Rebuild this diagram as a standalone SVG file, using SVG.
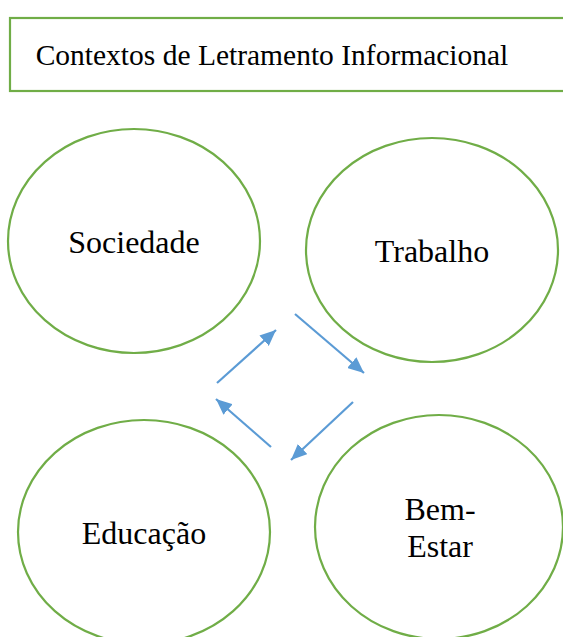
<svg xmlns="http://www.w3.org/2000/svg" width="563" height="637" viewBox="0 0 563 637">
<style>
.node{fill:#fff;stroke:#70AD47;stroke-width:2.2}
.lbl{font-family:"Liberation Serif","Times New Roman",serif;font-size:32px;fill:#000;text-anchor:middle}
.conn{stroke:#5B9BD5;stroke-width:2.2;fill:none;marker-end:url(#ah)}
</style>
<defs>
<marker id="ah" markerUnits="userSpaceOnUse" viewBox="0 0 16 14" refX="16" refY="7" markerWidth="16" markerHeight="14" orient="auto">
<path d="M0,0 L16,7 L0,14 Z" fill="#5B9BD5"/>
</marker>
</defs>
<rect width="563" height="637" fill="#fff"/>
<g id="title">
<rect class="node" x="10" y="18" width="562" height="73"/>
<text class="lbl" x="272" y="65" style="font-size:29.5px">Contextos de Letramento Informacional</text>
</g>
<g id="sociedade">
<ellipse class="node" cx="134" cy="241" rx="126" ry="112"/>
<text class="lbl" x="134" y="253">Sociedade</text>
</g>
<g id="trabalho">
<ellipse class="node" cx="432" cy="250" rx="126" ry="112"/>
<text class="lbl" x="432" y="262">Trabalho</text>
</g>
<g id="educacao">
<ellipse class="node" cx="144" cy="532" rx="126" ry="112"/>
<text class="lbl" x="144" y="544">Educação</text>
</g>
<g id="bemestar">
<ellipse class="node" cx="439" cy="527" rx="124" ry="112"/>
<text class="lbl" x="440" y="520">Bem-</text>
<text class="lbl" x="440" y="557">Estar</text>
</g>
<g id="connectors">
<line class="conn" x1="217" y1="383" x2="276" y2="330"/>
<line class="conn" x1="295" y1="314" x2="364" y2="373"/>
<line class="conn" x1="353" y1="402" x2="291" y2="460"/>
<line class="conn" x1="271" y1="447" x2="216" y2="399"/>
</g>
</svg>
